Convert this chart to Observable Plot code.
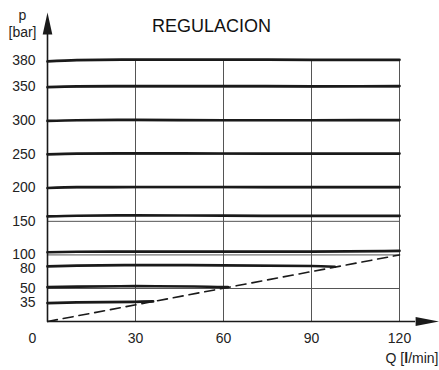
<!DOCTYPE html>
<html>
<head>
<meta charset="utf-8">
<script src="https://cdn.jsdelivr.net/npm/d3@7"></script>
<script src="https://cdn.jsdelivr.net/npm/@observablehq/plot@0.6"></script>
<style>
  html, body { margin: 0; padding: 0; background: #fff; }
  #chart svg { display: block; }
</style>
</head>
<body>
<div id="chart"></div>
<script>
// ---- data ----
const title = "REGULACION";
const yLabel = "p\n[bar]";
const xLabel = "Q [l/min]";
const xTicks = [30, 60, 90, 120];
const yTicks = [35, 50, 80, 100, 150, 200, 250, 300, 350, 380];
const gridP = [50, 100, 150, 200, 250, 300, 350, 380];
const gridQ = [30, 60, 90, 120];

// pressure curves (Q in l/min, p in bar)
const qFull = [0, 10, 30, 60, 90, 120];
const p380 = [379, 380.5, 381, 381, 380.8, 380.8];
const p350 = [349.7, 350.8, 351.1, 351, 350.8, 351];
const p300 = [299.5, 300.5, 301, 300.5, 300.5, 300.8];
const p250 = [249.8, 250.8, 251.3, 251, 250.9, 250.9];
const p200 = [199.6, 200.8, 201.1, 201.1, 201, 201];
const p150 = [157.3, 158.3, 158.8, 158.5, 158, 158];
const p100 = [104, 104.7, 105, 105, 105, 106];
const q80 = [0, 10, 30, 60, 90, 98];
const p80 = [82.8, 84, 84.8, 84.5, 83.5, 82.4];
const q50 = [0, 10, 30, 50, 61.5];
const p50 = [51.9, 52.8, 53.4, 53, 52];
const q35 = [0, 10, 30, 36];
const p35 = [34.9, 35.6, 36.2, 36.6];

// dashed limit line
const qLimit = [0, 33.4, 59.5, 120];
const pLimit = [0, 35, 50, 100];

// the pressure axis of the drawing is not uniform: breakpoints of its spacing
const pBreaks = [0, 35, 50, 350, 380];
const pSpacing = [0, 18.5, 33, 234.5, 261];

// axis extents (arrow bases)
const xAxisEnd = 125.5;
const yAxisEnd = 409.5;

// ---- build tables ----
const curves = [
  ["380", qFull, p380], ["350", qFull, p350], ["300", qFull, p300],
  ["250", qFull, p250], ["200", qFull, p200], ["150", qFull, p150],
  ["100", qFull, p100], ["80", q80, p80], ["50", q50, p50], ["35", q35, p35]
].flatMap(([k, qs, ps]) => qs.map((q, i) => ({k, q, p: ps[i]})));
const limit = qLimit.map((q, i) => ({q, p: pLimit[i]}));
const pAxis = d3.scaleLinear().domain(pBreaks).range(pSpacing);

const arrowUp = {draw(ctx) { ctx.moveTo(0, -22); ctx.lineTo(4.8, 0); ctx.lineTo(-4.8, 0); ctx.closePath(); }};
const arrowRight = {draw(ctx) { ctx.moveTo(24, 0); ctx.lineTo(0, -4.6); ctx.lineTo(0, 4.6); ctx.closePath(); }};

const ink = "#1a1a1a";
const font = "Liberation Sans, Arial, Helvetica, sans-serif";

const chart = Plot.plot({
  width: 439,
  height: 370,
  marginLeft: 47,
  marginRight: 40,
  marginTop: 60,
  marginBottom: 49,
  style: {fontFamily: font, fontSize: "14px", color: "#222", background: "#fff"},
  x: {domain: [0, 120]},
  y: {transform: pAxis, domain: [0, 261]},
  marks: [
    Plot.ruleY(gridP, {x1: 0, x2: 120, stroke: "#555", strokeWidth: 1}),
    Plot.ruleX(gridQ, {y1: 0, y2: 380, stroke: "#555", strokeWidth: 1}),
    Plot.line(limit, {x: "q", y: "p", stroke: ink, strokeWidth: 1.6, strokeDasharray: "10,6"}),
    Plot.line(curves, {x: "q", y: "p", z: "k", stroke: ink, strokeWidth: 2.7, curve: "monotone-x"}),
    Plot.ruleY([0], {x1: 0, x2: xAxisEnd, stroke: ink, strokeWidth: 1.6}),
    Plot.ruleX([0], {y1: 0, y2: yAxisEnd, stroke: ink, strokeWidth: 1.6}),
    Plot.dot([0], {x: 0, y: yAxisEnd, symbol: arrowUp, fill: ink, stroke: null}),
    Plot.dot([0], {x: xAxisEnd, y: 0, symbol: arrowRight, fill: ink, stroke: null}),
    Plot.axisY(yTicks, {tickSize: 0, tickPadding: 12, fontSize: 14, label: null, tickFormat: d => String(d)}),
    Plot.axisX(xTicks, {tickSize: 0, tickPadding: 12, fontSize: 14, label: null, tickFormat: d => String(d)}),
    Plot.text([0], {x: 0, y: 0, text: d => String(d), dx: -15, dy: 17, fontSize: 14, fill: "#222"}),
    Plot.text([title], {frameAnchor: "top", dx: -12, dy: -34, lineAnchor: "middle", fontSize: 18, fill: "#111"}),
    Plot.text([yLabel], {frameAnchor: "top-left", dx: -25, dy: -37, textAnchor: "middle", lineAnchor: "middle", fontSize: 14, lineHeight: 1.2, fill: "#222"}),
    Plot.text([xLabel], {frameAnchor: "bottom-right", dx: 39, dy: 37, textAnchor: "end", lineAnchor: "middle", fontSize: 14, fill: "#222"})
  ]
});

document.getElementById("chart").appendChild(chart);

// bold "l" in the unit label
d3.select(chart).selectAll("text").each(function() {
  if (this.textContent === xLabel) {
    this.innerHTML = 'Q [<tspan font-weight="bold">l</tspan>/min]';
  }
});
</script>
</body>
</html>
